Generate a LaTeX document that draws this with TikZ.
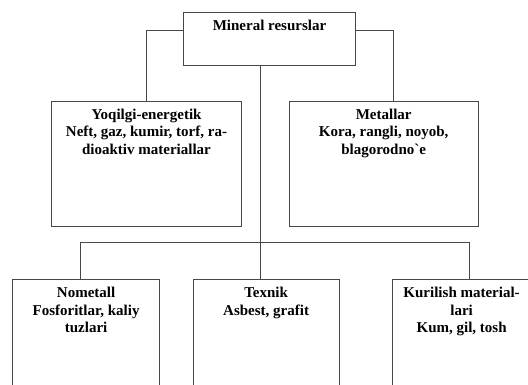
\documentclass[tikz,border=0pt]{standalone}
\usepackage{fontspec}
\setmainfont{Liberation Serif}[Ligatures=TeXOff]
\begin{document}
\begin{tikzpicture}[x=1pt,y=-1pt,
  box/.style={draw=black!72, line width=0.8pt, inner sep=0pt,
    font=\fontsize{15}{17.5}\selectfont\bfseries},
  conn/.style={draw=black!72, line width=0.8pt}]
\newcommand{\bxt}[3]{\parbox[c][#2pt][t]{#1pt}{\centering\rule{0pt}{18.5pt}#3\par}}
\fill[white] (0,0) rectangle (528,385);
\useasboundingbox (0,0) rectangle (528,385);
\clip (0,0) rectangle (528,385);
% boxes
\node[box] (top) at (269.5,38.75) {\bxt{172}{52.5}{Mineral resurslar}};
\node[box] (fuel) at (146.5,163.75) {\bxt{190}{125.5}{Yoqilgi-energetik\\Neft, gaz, kumir, torf, ra-\\dioaktiv materiallar}};
\node[box] (metal) at (383.7,163.75) {\bxt{189.5}{125.5}{Metallar\\Kora, rangli, noyob,\\blagorodno`e}};
\node[box, anchor=north] (nomet) at (86.1,279) {\bxt{146.7}{130}{Nometall\\Fosforitlar, kaliy\\tuzlari}};
\node[box, anchor=north] (tex) at (266.1,279) {\bxt{146.2}{130}{Texnik\\Asbest, grafit}};
\node[box, anchor=north west] (kur) at (392.2,279) {\bxt{138}{130}{Kurilish material-\\lari\\Kum, gil, tosh}\hspace{14pt}};
\coordinate (bus) at (260,242.6);
% connectors
\draw[conn] ([yshift=8.25pt]top.west) -| (fuel.north);
\draw[conn] ([yshift=8.25pt]top.east) -| ([xshift=9.3pt]metal.north);
\draw[conn] ([xshift=-9.5pt]top.south) -- ([xshift=-6.1pt]tex.north);
\draw[conn] ([xshift=-5.4pt]nomet.north) |- (bus) -| (469.5,279);
\end{tikzpicture}
\end{document}
